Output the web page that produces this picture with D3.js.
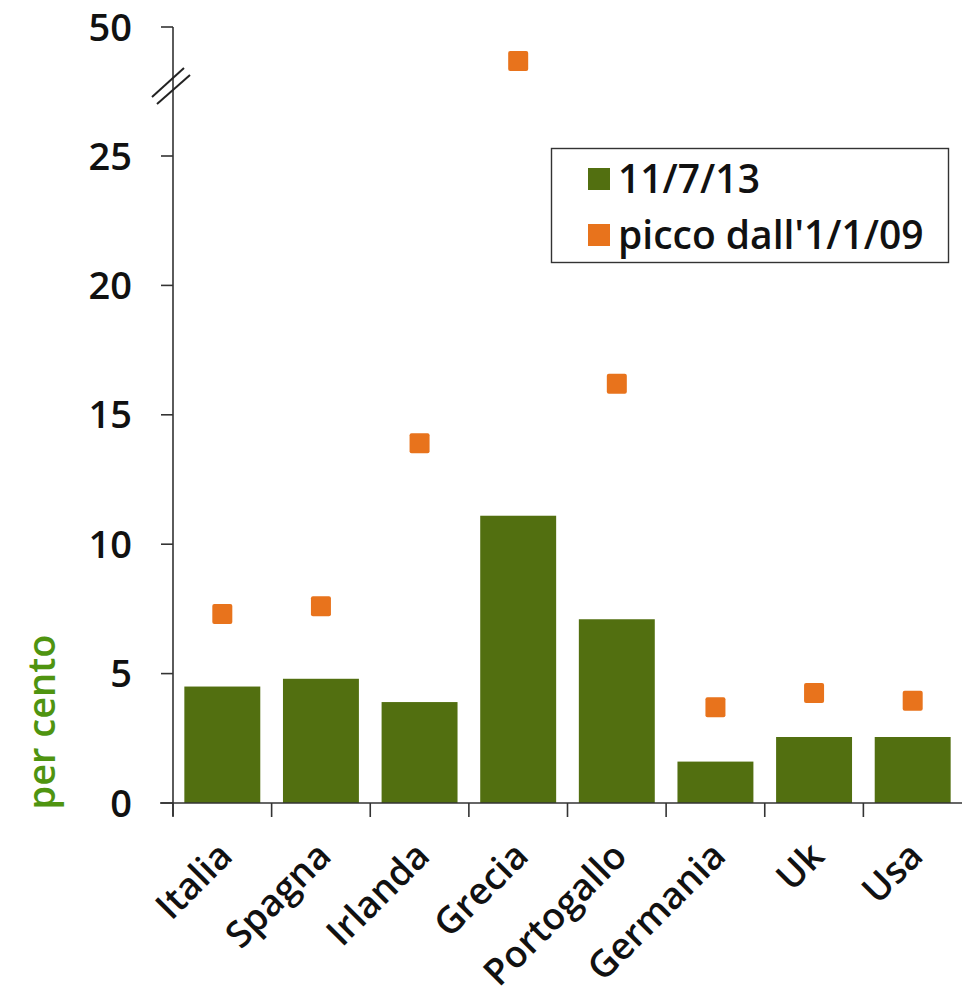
<!DOCTYPE html>
<html>
<head>
<meta charset="utf-8">
<script src="https://cdn.jsdelivr.net/npm/d3@7"></script>
<style>
  html, body { margin: 0; padding: 0; background: #fff; }
  svg text { font-family: "Open Sans", "Noto Sans", sans-serif; font-weight: 600; }
</style>
</head>
<body>
<svg id="chart" width="966" height="1006"></svg>
<script>
// Rendimenti dei titoli di Stato a 10 anni (per cento)
const countries = ["Italia", "Spagna", "Irlanda", "Grecia", "Portogallo", "Germania", "Uk", "Usa"];
const current = [4.5, 4.8, 3.9, 11.1, 7.1, 1.6, 2.55, 2.55];      // 11/7/13
const peak = [7.3, 7.6, 13.9, 43.4, 16.2, 3.7, 4.25, 3.95];       // picco dall'1/1/09
const yTicks = [0, 5, 10, 15, 20, 25, 50];
const seriesNames = ["11/7/13", "picco dall'1/1/09"];

const GREEN = "#526f10";
const ORANGE = "#e8731c";

const svg = d3.select("#chart");

// Broken value axis: 0–25 linear, then compressed 25–50
const y = d3.scaleLinear().domain([0, 25, 50]).range([803, 156, 27]);
const x = d3.scaleBand().domain(countries).range([173, 962])
  .paddingInner(0.23).paddingOuter(0.115);
const step = x.step();

// Bars
svg.append("g").selectAll("rect")
  .data(countries)
  .join("rect")
  .attr("x", d => x(d))
  .attr("width", x.bandwidth())
  .attr("y", (d, i) => y(current[i]))
  .attr("height", (d, i) => y(0) - y(current[i]))
  .attr("fill", GREEN);

// Peak markers
const m = 20;
svg.append("g").selectAll("rect")
  .data(countries)
  .join("rect")
  .attr("x", d => x(d) + x.bandwidth() / 2 - m / 2)
  .attr("y", (d, i) => y(peak[i]) - m / 2)
  .attr("width", m).attr("height", m)
  .attr("rx", 2)
  .attr("fill", ORANGE);

// Y axis
const yAxis = svg.append("g").attr("stroke", "#333").attr("stroke-width", 1.6);
yAxis.append("line").attr("x1", 173).attr("x2", 173).attr("y1", y(50)).attr("y2", 816);
yAxis.selectAll("line.tick").data(yTicks).join("line")
  .attr("class", "tick")
  .attr("x1", 161).attr("x2", 173)
  .attr("y1", d => y(d)).attr("y2", d => y(d));
svg.append("g").selectAll("text").data(yTicks).join("text")
  .attr("x", 132).attr("y", d => y(d))
  .attr("dy", "0.36em")
  .attr("text-anchor", "end")
  .attr("font-size", 38)
  .attr("fill", "#111")
  .text(d => d);

// Axis break marks
const brk = svg.append("g").attr("stroke", "#222").attr("stroke-width", 2);
brk.append("line").attr("x1", 152).attr("y1", 97).attr("x2", 184).attr("y2", 68);
brk.append("line").attr("x1", 157).attr("y1", 104).attr("x2", 190).attr("y2", 75);

// X axis
const xAxis = svg.append("g").attr("stroke", "#333").attr("stroke-width", 1.6);
xAxis.append("line").attr("x1", 160).attr("x2", 962).attr("y1", y(0)).attr("y2", y(0));
xAxis.selectAll("line.tick").data(countries).join("line")
  .attr("class", "tick")
  .attr("x1", d => x(d) - step * 0.115).attr("x2", d => x(d) - step * 0.115)
  .attr("y1", y(0)).attr("y2", y(0) + 14);

svg.append("g").selectAll("text").data(countries).join("text")
  .attr("transform", d => `translate(${x(d) + x.bandwidth() / 2 + 3},${y(0) + 46}) rotate(-45)`)
  .attr("text-anchor", "end")
  .attr("dy", "0.35em")
  .attr("font-size", 37)
  .attr("fill", "#111")
  .text(d => d);

// Y axis title
svg.append("text")
  .attr("transform", "translate(55,722) rotate(-90)")
  .attr("text-anchor", "middle")
  .attr("font-size", 38)
  .attr("fill", "#4f9410")
  .text("per cento");

// Legend
const lg = svg.append("g");
lg.append("rect").attr("x", 551.5).attr("y", 148.5).attr("width", 397).attr("height", 114)
  .attr("fill", "#fff").attr("stroke", "#333").attr("stroke-width", 1.4);
const colors = [GREEN, ORANGE];
seriesNames.forEach((s, i) => {
  const cy = 179 + i * 56;
  lg.append("rect").attr("x", 588).attr("y", cy - 11).attr("width", 22).attr("height", 22)
    .attr("fill", colors[i]);
  lg.append("text").attr("x", 618).attr("y", cy).attr("dy", "0.36em")
    .attr("font-size", 39).attr("fill", "#111").text(s);
});
</script>
</body>
</html>
